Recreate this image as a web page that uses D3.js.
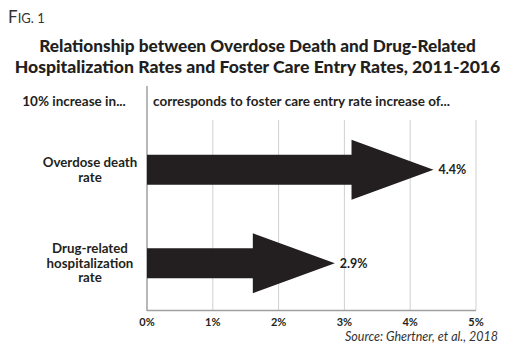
<!DOCTYPE html>
<html><head><meta charset="utf-8">
<script src="https://cdn.jsdelivr.net/npm/d3@7"></script>
<style>body{margin:0;background:#fff}</style>
</head><body>
<svg id="c" width="515" height="347"></svg>
<script>
const categories = [["Overdose death", "rate"], ["Drug-related", "hospitalization", "rate"]];
const values = [4.4, 2.9];
const valueLabels = ["4.4%", "2.9%"];
const ticks = [0, 1, 2, 3, 4, 5];
const tickLabels = ["0%", "1%", "2%", "3%", "4%", "5%"];
const titleLines = ["Relationship between Overdose Death and Drug-Related", "Hospitalization Rates and Foster Care Entry Rates, 2011-2016"];

const svg = d3.select("#c");
const font = "Lato, 'Open Sans', sans-serif";
const ink = "#231f20";

const x = d3.scaleLinear().domain([0, 5]).range([147, 476]);
const y = d3.scalePoint().domain(d3.range(categories.length)).range([123, 310]).padding(0.5);

// Fig label
const fig = svg.append("text").attr("x", 8).attr("y", 23).attr("fill", "#333")
  .attr("font-family", font).attr("font-size", 17);
fig.append("tspan").text("F");
fig.append("tspan").attr("font-size", 13).text("IG. 1");

svg.selectAll(".title").data(titleLines).join("text")
  .attr("x", 257.5).attr("y", (d, i) => 52 + i * 20.6)
  .attr("text-anchor", "middle").attr("font-family", font).attr("font-weight", 900)
  .attr("font-size", (d, i) => i === 0 ? 17.2 : 17.6).attr("fill", ink).text(d => d);

// header
svg.append("text").attr("x", 74).attr("y", 106).attr("text-anchor", "middle")
  .attr("font-family", font).attr("font-weight", 700).attr("font-size", 13.5).attr("fill", ink)
  .text("10% increase in...");
svg.append("text").attr("x", 153).attr("y", 106)
  .attr("font-family", font).attr("font-weight", 700).attr("font-size", 13.5).attr("fill", ink)
  .text("corresponds to foster care entry rate increase of...");

// gridlines
svg.selectAll(".grid").data(ticks.slice(1)).join("line")
  .attr("x1", d => x(d)).attr("x2", d => x(d)).attr("y1", 120).attr("y2", 310)
  .attr("stroke", "#d0d0d0").attr("stroke-width", 1);

// axis
svg.append("line").attr("x1", x(0)).attr("x2", x(0)).attr("y1", 86).attr("y2", 311)
  .attr("stroke", "#a0a0a0").attr("stroke-width", 1.5);
svg.append("line").attr("x1", x(0)).attr("x2", x(5)).attr("y1", 310.5).attr("y2", 310.5)
  .attr("stroke", "#a0a0a0").attr("stroke-width", 1.5);

svg.selectAll(".tick").data(ticks).join("text")
  .attr("x", d => x(d)).attr("y", 326).attr("text-anchor", "middle")
  .attr("font-family", font).attr("font-weight", 700).attr("font-size", 11).attr("fill", ink)
  .text((d, i) => tickLabels[i]);

// arrows
const shaftH = 15, headH = 30, headL = 82;
svg.selectAll(".arrow").data(values).join("path")
  .attr("fill", ink)
  .attr("d", (v, i) => {
    const cy = y(i), x0 = x(0), tip = x(v) - 3, hb = tip - headL;
    return `M${x0},${cy - shaftH}L${hb},${cy - shaftH}L${hb},${cy - headH}L${tip},${cy}L${hb},${cy + headH}L${hb},${cy + shaftH}L${x0},${cy + shaftH}Z`;
  });
svg.selectAll(".vlab").data(values).join("text")
  .attr("x", v => x(v) + 2).attr("y", (v, i) => y(i)).attr("dy", "0.35em")
  .attr("font-family", font).attr("font-weight", 700).attr("font-size", 12.5).attr("fill", ink)
  .text((v, i) => valueLabels[i]);

// category labels
categories.forEach((lines, i) => {
  const n = lines.length;
  svg.append("text").attr("text-anchor", "middle")
    .attr("font-family", font).attr("font-weight", 700).attr("font-size", 13.3).attr("fill", ink)
    .selectAll("tspan").data(lines).join("tspan")
    .attr("x", 90).attr("y", (d, j) => y(i) + (j - (n - 1) / 2) * 14.5).attr("dy", "0.35em")
    .text(d => d);
});

svg.append("text").attr("x", 498).attr("y", 341).attr("text-anchor", "end")
  .attr("font-family", font).attr("font-style", "italic").attr("font-size", 12.5).attr("fill", "#333")
  .text("Source: Ghertner, et al., 2018");
</script>
</body></html>
